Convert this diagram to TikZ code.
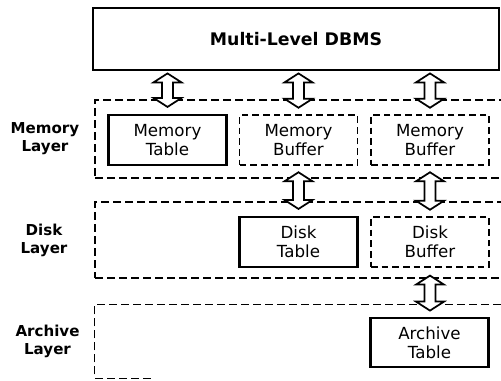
\documentclass[tikz,border=0pt]{standalone}
\usepackage{fontspec}
\setmainfont{DejaVu Sans}
\usetikzlibrary{calc}
\tikzset{
  tablebox/.style={draw, line width=2.1pt, minimum width=88.5pt, minimum height=37.5pt, inner sep=0pt, align=center, font=\fontsize{12.5}{14.25}\selectfont},
  bufbox/.style={draw, line width=0.9pt, dash pattern=on 5pt off 3pt, minimum width=88.5pt, minimum height=37.5pt, inner sep=0pt, align=center, font=\fontsize{12.5}{14.25}\selectfont},
  layerbox/.style={draw, line width=0.9pt, dash pattern=on 6pt off 3pt, inner sep=0pt},
  layerlabel/.style={align=center, font=\bfseries\fontsize{11.3}{13.5}\selectfont},
  blockarr/.style={draw, fill=white, line width=1.3pt, line join=miter},
}
\newcommand\blockarrow[2]{%
  \draw[blockarr] let \p1=(#1), \p2=(#2) in
   (\x1,\y1) -- ++(10.5pt,-6.75pt) -- ++(-6.4pt,0pt) -- (\x1+4.1pt,\y2+6.75pt) -- ++(6.4pt,0pt)
   -- (\x1,\y2) -- ++(-10.5pt,6.75pt) -- ++(6.4pt,0pt) -- (\x1-4.1pt,\y1-6.75pt) -- ++(-6.4pt,0pt) -- cycle;}
\begin{document}
\begin{tikzpicture}[x=0.75pt,y=-0.75pt]
\useasboundingbox (0,0) rectangle (501,380);
\clip (0,0) rectangle (501,380);
% top box
\node[draw, line width=2.1pt, minimum width=304.5pt, minimum height=46.5pt, inner sep=0pt,
      font=\bfseries\fontsize{13}{15}\selectfont] (dbms) at (296,39) {Multi-Level DBMS};
% layers
\node[layerbox, minimum width=318.75pt, minimum height=58.5pt] (memlayer) at (307.5,139) {};
\node[layerbox, minimum width=318.75pt, minimum height=57pt] (disklayer) at (307.5,240) {};
\node[inner sep=0pt, minimum width=318.75pt, minimum height=54.75pt] (archlayer) at (307.5,341.5) {};
\draw[line width=0.9pt, dash pattern=on 6pt off 3pt]
  ([xshift=42pt]archlayer.south west) -- (archlayer.south west) -- (archlayer.north west) -- (archlayer.north east);
% labels
\node[layerlabel] (memlabel) at (45,139) {Memory\\Layer};
\node[layerlabel] (disklabel) at (44,240) {Disk\\Layer};
\node[layerlabel] (archlabel) at (47.5,341.5) {Archive\\Layer};
% boxes
\node[tablebox] (mt) at (167.5,140) {Memory\\Table};
\node[bufbox] (mb1) at (298.5,140) {Memory\\Buffer};
\node[bufbox] (mb2) at (430,140) {Memory\\Buffer};
\node[tablebox] (dt) at (298.5,242) {Disk\\Table};
\node[bufbox] (db) at (430,242) {Disk\\Buffer};
\node[tablebox, minimum height=36.75pt] (at) at (429.5,342.5) {Archive\\Table};
% arrows
\coordinate (a1t) at ([yshift=-1.5pt]dbms.south -| mt.north);
\coordinate (a1b) at ([yshift=5pt]mt.north);
\coordinate (a2t) at ([yshift=-1.5pt]dbms.south -| mb1.north);
\coordinate (a2b) at ([yshift=5pt]mb1.north);
\coordinate (a3t) at ([yshift=-1.5pt]dbms.south -| mb2.north);
\coordinate (a3b) at ([yshift=5pt]mb2.north);
\coordinate (a4t) at ([yshift=-5pt]mb1.south);
\coordinate (a4b) at ([yshift=5pt]dt.north);
\coordinate (a5t) at ([yshift=-5pt]mb2.south);
\coordinate (a5b) at ([yshift=5pt]db.north);
\coordinate (a6t) at ([yshift=-6pt]db.south);
\coordinate (a6b) at ([yshift=4.5pt]at.north);
\blockarrow{a1t}{a1b}
\blockarrow{a2t}{a2b}
\blockarrow{a3t}{a3b}
\blockarrow{a4t}{a4b}
\blockarrow{a5t}{a5b}
\blockarrow{a6t}{a6b}
\end{tikzpicture}
\end{document}
